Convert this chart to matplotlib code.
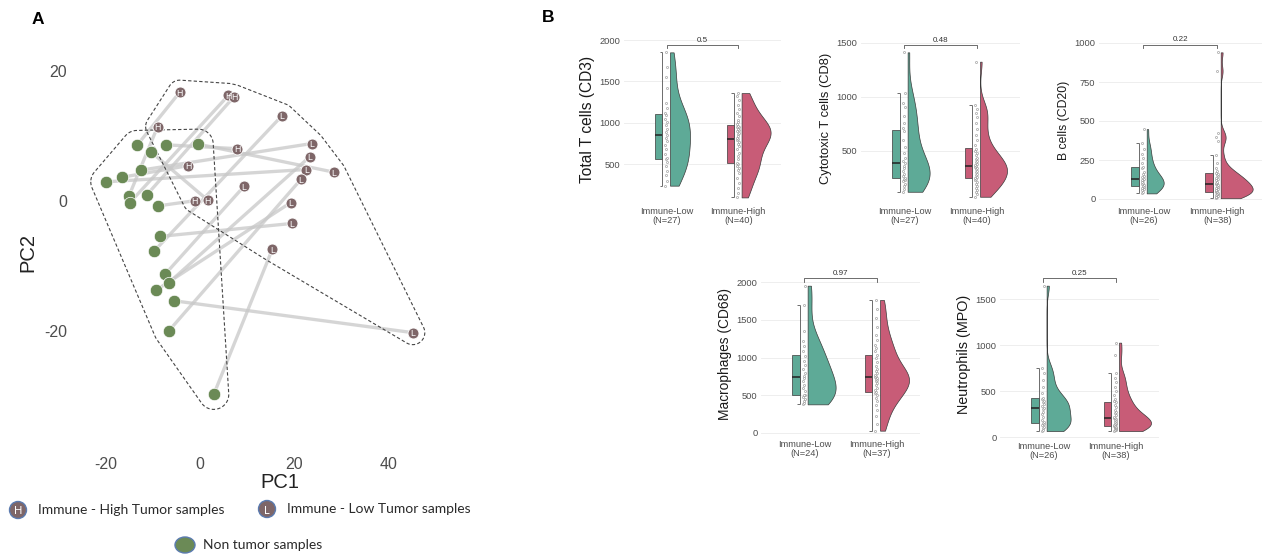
"""
plot.py
-------
Panel A: PCA of matched tumor / non-tumor samples with hulls.
Panel B: raincloud plots of immune cell counts, Immune-Low vs Immune-High.
"""

import matplotlib
matplotlib.use("Agg")
import matplotlib.pyplot as plt
import numpy as np
from matplotlib import cbook
from matplotlib.patches import Ellipse

plt.rcParams["font.family"] = ["Liberation Sans", "DejaVu Sans"]
plt.rcParams["axes.unicode_minus"] = False

FW, FH = 1262, 557  # figure size in pixels (dpi 100)

# ---------- panel A data ---------------------------------------------------
nontumor_pc1 = [-13.3, -10.3, -7.2, -0.3, -19.9, -16.5, -12.4, -15.0, -14.8, -11.2,
                -8.8, -8.5, -9.7, -7.3, -6.5, -9.3, -5.4, -6.5, 3.0]
nontumor_pc2 = [8.5, 7.5, 8.6, 8.7, 2.9, 3.6, 4.7, 0.7, -0.3, 0.9,
                -0.8, -5.5, -7.8, -11.3, -12.6, -13.8, -15.4, -20.0, -29.8]
high_pc1 = [-4.2, 6.1, 7.3, -8.9, 8.0, -2.4, -1.0, 1.7]
high_pc2 = [16.7, 16.2, 16.0, 11.4, 8.0, 5.4, 0.0, 0.1]
low_pc1 = [17.5, 23.8, 23.4, 22.6, 28.4, 21.5, 9.4, 19.3, 19.6, 15.4, 45.2]
low_pc2 = [13.1, 8.8, 6.8, 4.8, 4.4, 3.3, 2.2, -0.3, -3.5, -7.5, -20.3]
# matched tumor sample of every non-tumor sample
pair_group = ["H", "H", "H", "L", "L", "H", "L", "H", "H", "H",
              "H", "L", "L", "L", "L", "L", "L", "L", "L"]
pair_index = [0, 7, 4, 4, 3, 5, 1, 3, 1, 2, 6, 8, 0, 6, 2, 7, 10, 5, 9]

# ---------- panel B data ---------------------------------------------------
groups = ["Immune-Low", "Immune-High"]

cd3_low = [242, 300, 370, 420, 480, 530, 560, 576, 620, 680, 730, 780, 820, 850,
           890, 930, 970, 1010, 1050, 1090, 1118, 1180, 1244, 1420, 1558, 1679, 1852]
cd3_high = [100, 150, 210, 280, 340, 390, 430, 460, 485, 500, 513, 560, 600, 640,
            680, 720, 750, 775, 795, 805, 815, 840, 860, 880, 900, 915, 930, 945,
            955, 965, 985, 1010, 1040, 1080, 1120, 1170, 1220, 1280, 1330, 1360]
cd8_low = [124, 150, 175, 200, 220, 235, 245, 251, 270, 290, 320, 345, 365, 385,
           410, 440, 480, 540, 600, 680, 708, 760, 821, 907, 944, 1038, 1410]
cd8_high = [78, 100, 120, 140, 160, 180, 200, 215, 230, 245, 249, 260, 275, 290,
            305, 318, 330, 340, 350, 360, 368, 380, 395, 410, 425, 440, 460, 480,
            500, 522, 554, 600, 650, 700, 760, 810, 850, 890, 924, 1324]
cd20_low = [36, 45, 55, 62, 70, 78, 84, 92, 98, 105, 112, 120, 125, 131,
            140, 150, 160, 175, 200, 208, 230, 260, 290, 320, 358, 448]
cd20_high = [5, 10, 15, 20, 25, 30, 35, 40, 44, 46, 50, 55, 60, 66, 72, 80, 86,
             92, 96, 100, 105, 112, 120, 128, 135, 145, 152, 160, 167, 180, 200,
             230, 285, 370, 395, 420, 820, 940]
cd68_low = [377, 390, 420, 450, 480, 500, 507, 560, 600, 640, 690, 730, 760, 800,
            850, 900, 960, 1020, 1080, 1150, 1220, 1350, 1700, 1955]
cd68_high = [27, 120, 220, 300, 370, 420, 460, 500, 525, 545, 570, 600, 630, 660,
             690, 705, 715, 726, 737, 750, 770, 790, 820, 850, 890, 940, 990, 1035,
             1080, 1120, 1170, 1230, 1300, 1400, 1520, 1650, 1765]
mpo_low = [68, 80, 100, 115, 130, 145, 155, 167, 190, 220, 250, 280, 305, 323,
           340, 360, 380, 400, 420, 432, 480, 550, 620, 700, 750, 1648]
mpo_high = [68, 75, 82, 90, 97, 103, 110, 115, 120, 125, 129, 140, 150, 160, 170,
            180, 190, 200, 205, 215, 225, 240, 260, 280, 300, 330, 350, 380, 390,
            420, 460, 500, 550, 600, 650, 696, 900, 1029]

p_values = ["0.5", "0.48", "0.22", "0.97", "0.25"]
y_titles = ["Total T cells (CD3)", "Cytotoxic T cells (CD8)", "B cells (CD20)",
            "Macrophages (CD68)", "Neutrophils (MPO)"]

# ---------- style ----------------------------------------------------------
GREEN = "#6b8a56"
TUMOR = "#7e6668"
TEAL = "#5eaa97"
ROSE = "#c85c77"
EDGE = "#3a3a3a"
TICK = "#4d4d4d"
JITTER = [-0.016, 0.004, -0.006, 0.012, -0.011, 0.008, -0.001, 0.015, -0.018, 0.0]

# pixel layout of each raincloud panel:
# x of group 1, px per group, y pixel of value 0, px per unit, ylim, ticks,
# half-violin widths (px), bracket height, y title size
B_LAYOUT = [
    dict(x1=666.7, ppc=71.6, y0=205.7, ppv=0.0828, ylim=(27, 2060),
         ticks=[500, 1000, 1500, 2000], vw=(20, 29), br=1941, ts=11.2),
    dict(x1=904.3, ppc=72.4, y0=205.2, ppv=0.1084, ylim=(16, 1580),
         ticks=[500, 1000, 1500], vw=(22, 27), br=1478, ts=9.3),
    dict(x1=1143.3, ppc=74.0, y0=199.0, ppv=0.156, ylim=(-29, 1040),
         ticks=[0, 250, 500, 750, 1000], vw=(17, 32), br=990, ts=8.8),
    dict(x1=804.3, ppc=72.4, y0=432.7, ppv=0.0752, ylim=(-50, 2150),
         ticks=[0, 500, 1000, 1500, 2000], vw=(28, 29), br=2053, ts=9.9),
    dict(x1=1043.3, ppc=72.4, y0=437.3, ppv=0.092, ylim=(-10, 1820),
         ticks=[0, 500, 1000, 1500], vw=(24, 32), br=1728, ts=10.4),
]


def px_axes(fig, left, top, width, height):
    return fig.add_axes([left / FW, 1 - (top + height) / FH, width / FW, height / FH])


def convex_hull(points):
    pts = sorted(set(map(tuple, points)))

    def cross(o, a, b):
        return (a[0] - o[0]) * (b[1] - o[1]) - (a[1] - o[1]) * (b[0] - o[0])

    lower, upper = [], []
    for p in pts:
        while len(lower) >= 2 and cross(lower[-2], lower[-1], p) <= 0:
            lower.pop()
        lower.append(p)
    for p in reversed(pts):
        while len(upper) >= 2 and cross(upper[-2], upper[-1], p) <= 0:
            upper.pop()
        upper.append(p)
    return np.array(lower[:-1] + upper[:-1])


def rounded_hull(ax, xs, ys, r_px):
    """Dashed hull around points, padded by r_px screen pixels."""
    pts = ax.transData.transform(np.column_stack([xs, ys]))
    ang = np.linspace(0, 2 * np.pi, 60, endpoint=False)
    ring = np.column_stack([np.cos(ang), np.sin(ang)]) * r_px
    cloud = (pts[:, None, :] + ring[None, :, :]).reshape(-1, 2)
    hull = convex_hull(cloud)
    hull = np.vstack([hull, hull[:1]])
    d = ax.transData.inverted().transform(hull)
    ax.plot(d[:, 0], d[:, 1], color="#444444", lw=0.8, ls=(0, (3, 2)), zorder=2)


# ---------- panel A --------------------------------------------------------
def draw_pca(fig):
    top, height = 57.7, 390.0
    ax = px_axes(fig, 77, top, 349, height)
    ax.set_xlim(-26, 48)
    ax.set_ylim(-38, 22)

    tumor = {"H": (high_pc1, high_pc2), "L": (low_pc1, low_pc2)}
    for x, y, g, i in zip(nontumor_pc1, nontumor_pc2, pair_group, pair_index):
        tx, ty = tumor[g][0][i], tumor[g][1][i]
        ax.plot([x, tx], [y, ty], color="#c8c8c8", lw=2.4, alpha=0.75,
                solid_capstyle="round", zorder=1)

    rounded_hull(ax, nontumor_pc1, nontumor_pc2, 15)
    rounded_hull(ax, high_pc1 + low_pc1, high_pc2 + low_pc2, 12)

    ax.scatter(nontumor_pc1, nontumor_pc2, s=80, c=GREEN, edgecolors="white",
               linewidths=0.5, zorder=3)
    for g, (xs, ys) in tumor.items():
        ax.scatter(xs, ys, s=62, c=TUMOR, edgecolors="white", linewidths=0.6, zorder=4)
        for x, y in zip(xs, ys):
            ax.text(x, y, g, color="white", fontsize=6.3, ha="center",
                    va="center_baseline", zorder=5)

    for s in ax.spines.values():
        s.set_visible(False)
    ax.set_xticks([-20, 0, 20, 40])
    ax.set_yticks([-20, 0, 20])
    ax.tick_params(length=0, labelsize=11.5, labelcolor=TICK, pad=7)
    ax.set_xlabel("PC1", fontsize=14.5, color="#222222")
    ax.set_ylabel("PC2", fontsize=14.5, color="#222222")
    ax.xaxis.set_label_coords((280 - 77) / 349, -(473 - (top + height)) / height)
    ax.yaxis.set_label_coords(-(77 - 37) / 349, 0.5)


# ---------- panel B --------------------------------------------------------
def nrd0(kde):
    """R's default bandwidth (bw.nrd0) as a factor of the sample sd."""
    d = kde.dataset[0]
    sd = d.std(ddof=1)
    q75, q25 = np.percentile(d, [75, 25])
    return 0.9 * min(sd, (q75 - q25) / 1.34) * len(d) ** (-0.2) / sd


def raincloud(fig, lay, low, high, title, pval):
    left = lay["x1"] - 0.6 * lay["ppc"]
    width = 2.2 * lay["ppc"]
    top = lay["y0"] - lay["ylim"][1] * lay["ppv"]
    height = (lay["ylim"][1] - lay["ylim"][0]) * lay["ppv"]
    ax = px_axes(fig, left, top, width, height)
    ax.set_xlim(0.4, 2.6)
    ax.set_ylim(*lay["ylim"])

    for pos, vals, col, vw in ((1, low, TEAL, lay["vw"][0]), (2, high, ROSE, lay["vw"][1])):
        vals = np.asarray(vals, float)
        vp = ax.violinplot([vals], positions=[pos + 0.046], widths=[2 * vw / lay["ppc"]],
                           showextrema=False, bw_method=nrd0, side="high")
        body = vp["bodies"][0]
        body.set_facecolor(col)
        body.set_edgecolor(EDGE)
        body.set_linewidth(0.5)
        body.set_alpha(1)

        st = cbook.boxplot_stats(vals, whis=1.5)[0]
        ax.bxp([st], positions=[pos - 0.112], widths=0.102, showcaps=False,
               showfliers=False, patch_artist=True,
               boxprops=dict(facecolor=col, edgecolor=EDGE, linewidth=0.5),
               medianprops=dict(color="#222222", linewidth=1.1),
               whiskerprops=dict(linewidth=0))
        ax.vlines(pos - 0.061, st["whislo"], st["whishi"], color="#555555", lw=0.6)
        ax.hlines([st["whislo"], st["whishi"]], pos - 0.1, pos - 0.061,
                  color="#555555", lw=0.6)
        jit = np.resize(JITTER, len(vals))
        ax.plot(pos - 0.005 + jit, vals, "o", ms=1.5, mfc="white", mec="#8c8c8c",
                mew=0.4, zorder=4)

    # significance bracket
    tick = 3.3 / lay["ppv"]
    y = lay["br"]
    ax.plot([1, 1, 2, 2], [y - tick, y, y, y - tick], color="#555555", lw=0.6,
            clip_on=False)
    ax.text(1.5, y + 1.2 / lay["ppv"], pval, ha="center", va="bottom",
            fontsize=5.8, color="#333333")

    for s in ax.spines.values():
        s.set_visible(False)
    ax.set_xticks([1, 2])
    ax.set_xticklabels([f"{groups[0]}\n(N={len(low)})", f"{groups[1]}\n(N={len(high)})"],
                       linespacing=1.05)
    ax.set_yticks(lay["ticks"])
    ax.tick_params(length=0, labelsize=6.7, labelcolor=TICK, pad=2.5)
    ax.yaxis.grid(True, color="#ebebeb", lw=0.6)
    ax.set_axisbelow(True)
    ax.set_ylabel(title, fontsize=lay["ts"], color="#1a1a1a", labelpad=3)


# ---------- legend and panel letters --------------------------------------
def draw_legend(fig):
    ax = fig.add_axes([0, 0, 1, 1])
    ax.set_xlim(0, FW)
    ax.set_ylim(FH, 0)
    ax.axis("off")
    ax.patch.set_alpha(0)
    font = dict(family=["Lato", "DejaVu Sans"], fontsize=10, color="#2a2a2a",
                va="center")
    for x, y, letter, text in ((18, 510, "H", "Immune - High Tumor samples"),
                               (267, 509, "L", "Immune - Low Tumor samples")):
        ax.add_patch(Ellipse((x, y), 17, 17, facecolor=TUMOR, edgecolor="#5b7bb0", lw=1))
        ax.text(x, y, letter, color="white", fontsize=8, ha="center",
                va="center_baseline", family=["Lato", "DejaVu Sans"])
        ax.text(x + 20, y, text, **font)
    ax.add_patch(Ellipse((185, 545), 20, 16, facecolor=GREEN, edgecolor="#5b7bb0", lw=1))
    ax.text(203, 545, "Non tumor samples", **font)

    fig.text(38 / FW, 1 - 20 / FH, "A", fontsize=12.5, weight="bold",
             ha="center", va="center")
    fig.text(548 / FW, 1 - 17 / FH, "B", fontsize=12.5, weight="bold",
             ha="center", va="center")


def main():
    fig = plt.figure(figsize=(FW / 100, FH / 100), dpi=100)
    draw_pca(fig)
    data = [(cd3_low, cd3_high), (cd8_low, cd8_high), (cd20_low, cd20_high),
            (cd68_low, cd68_high), (mpo_low, mpo_high)]
    for lay, (lo, hi), title, p in zip(B_LAYOUT, data, y_titles, p_values):
        raincloud(fig, lay, lo, hi, title, p)
    draw_legend(fig)
    fig.savefig("out.png", dpi=100)


if __name__ == "__main__":
    main()
